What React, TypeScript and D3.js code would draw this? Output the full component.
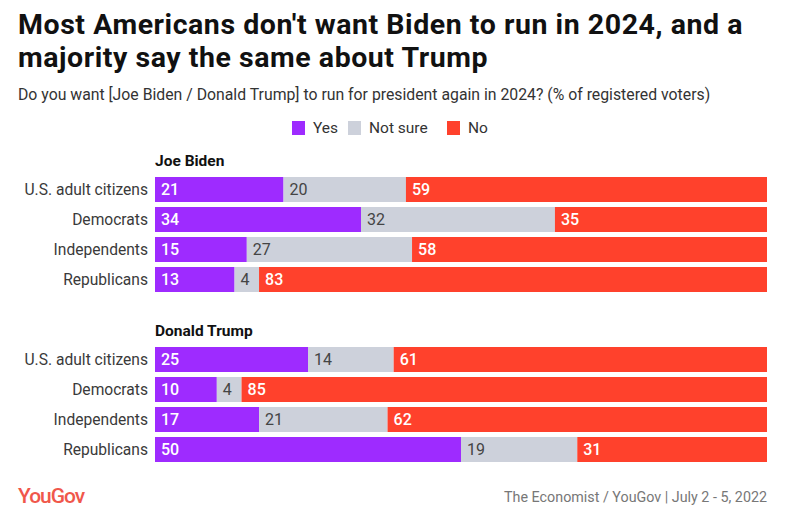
import * as d3 from "d3";

const categories = ["U.S. adult citizens", "Democrats", "Independents", "Republicans"];
const candidates = ["Joe Biden", "Donald Trump"];
const seriesNames = ["Yes", "Not sure", "No"];
const colors = ["#9e2bff", "#cdd1db", "#ff412c"];

const bidenYes = [21, 34, 15, 13];
const bidenNotSure = [20, 32, 27, 4];
const bidenNo = [59, 35, 58, 83];
const trumpYes = [25, 10, 17, 50];
const trumpNotSure = [14, 4, 21, 19];
const trumpNo = [61, 85, 62, 31];

const values = [
  [bidenYes, bidenNotSure, bidenNo],
  [trumpYes, trumpNotSure, trumpNo],
];

const width = 790;
const height = 524;
const left = 155;
const right = 767;
const font = "Roboto, 'Noto Sans', sans-serif";

const App = () => {
  const group = d3.scaleBand().domain(candidates).range([150, 490]);
  const row = d3
    .scaleBand()
    .domain(categories)
    .range([0, 120])
    .paddingInner(1 / 6)
    .paddingOuter(1 / 12);

  // legend positions
  const legendX = [292, 348, 447];

  return (
    <svg
      width={width}
      height={height}
      style={{ position: "absolute", left: 0, top: 0, background: "#fff" }}
      fontFamily={font}
    >
      <text x={18} y={34} fontSize={28.5} fontWeight={700} fill="#111" letterSpacing={0.55}>
        Most Americans don't want Biden to run in 2024, and a
      </text>
      <text x={18} y={67} fontSize={28.5} fontWeight={700} fill="#111" letterSpacing={0.55}>
        majority say the same about Trump
      </text>
      <text x={18} y={100} fontSize={15.8} fill="#333">
        Do you want [Joe Biden / Donald Trump] to run for president again in 2024? (% of registered voters)
      </text>

      {seriesNames.map((s, i) => (
        <g key={s} transform={`translate(${legendX[i]},121)`}>
          <rect width={13} height={14} fill={colors[i]} />
          <text x={21} y={12} fontSize={15.5} fill="#333">
            {s}
          </text>
        </g>
      ))}

      {candidates.map((c, gi) => {
        const g0 = group(c)!;
        const rowsTop = g0 + 27;
        return (
          <g key={c}>
            <text x={left} y={g0 + 16} fontSize={15.5} fontWeight={700} fill="#111">
              {c}
            </text>
            {categories.map((cat, ri) => {
              const segs = values[gi].map((v) => v[ri]);
              const total = d3.sum(segs);
              const x = d3.scaleLinear().domain([0, total]).range([left, right]);
              const y = rowsTop - 2.5 + row(cat)!;
              const h = row.bandwidth();
              let acc = 0;
              return (
                <g key={cat}>
                  <text
                    x={148}
                    y={y + h / 2 + 5.5}
                    textAnchor="end"
                    fontSize={15.6}
                    fill="#3a3a3a"
                  >
                    {cat}
                  </text>
                  {segs.map((v, si) => {
                    const x0 = x(acc);
                    acc += v;
                    const x1 = x(acc);
                    return (
                      <g key={si}>
                        <rect x={x0} y={y} width={x1 - x0} height={h} fill={colors[si]} />
                        <text
                          x={x0 + 6}
                          y={y + h / 2 + 5.5}
                          fontSize={16}
                          fontWeight={si === 1 ? 400 : 500}
                          fill={si === 1 ? "#444" : "#fff"}
                        >
                          {v}
                        </text>
                      </g>
                    );
                  })}
                </g>
              );
            })}
          </g>
        );
      })}

      <text x={18} y={503} fontSize={21} fontWeight={500} fill="#f0574b" letterSpacing={-1}>
        YouGov
      </text>
      <text x={767} y={502} textAnchor="end" fontSize={14.3} fill="#777">
        The Economist / YouGov | July 2 - 5, 2022
      </text>
    </svg>
  );
};

export default App;
